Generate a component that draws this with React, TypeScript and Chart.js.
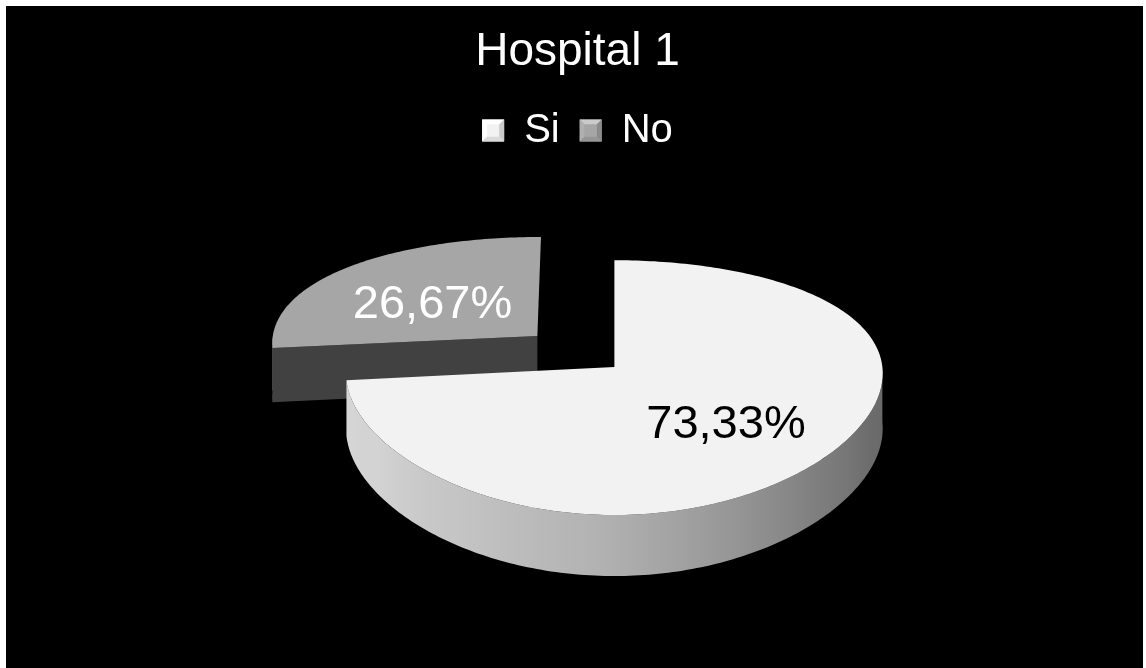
import { useEffect, useRef } from 'react';
import { Chart, registerables } from 'chart.js';

Chart.register(...registerables);

// ---- data ----
const categories = ['Si', 'No'];
const shares = [73.33, 26.67];
const sliceColors = ['#f2f2f2', '#a6a6a6'];
const labelColors = ['#000000', '#ffffff'];
// explode distance of each slice (px, in the pie plane)
const explode = [0, 105];

const FONT = "'Liberation Sans', Arial, sans-serif";

// 3D view of the pie: vertical tilt, wall height and a little perspective
const VIEW = { tilt: 0.463, depth: 0.205, persp: 0.161, perspX: 0.05, perspDepth: 0.1 };
// brightness of the outer wall by its facing angle (deg, 0 = right, 90 = front, 180 = left)
const WALL_SHADE: [number, number][] = [
  [0, 0.42], [22, 0.45], [45, 0.53], [70, 0.64], [92, 0.73], [115, 0.79], [150, 0.87], [180, 0.89],
];
const CUT_SHADE = 0.39;
const LABEL_RADIUS = 0.55;
const LABEL_SIZE = 47;

const fmtShare = (v: number) => v.toFixed(2).replace('.', ',') + '%';

function shade(hex: string, f: number) {
  const n = parseInt(hex.slice(1), 16);
  const c = (x: number) => Math.max(0, Math.min(255, Math.round(x * f)));
  return `rgb(${c((n >> 16) & 255)},${c((n >> 8) & 255)},${c(n & 255)})`;
}

function wallFactor(deg: number) {
  const d = Math.max(0, Math.min(180, deg));
  for (let i = 1; i < WALL_SHADE.length; i++) {
    const [a1, f1] = WALL_SHADE[i];
    const [a0, f0] = WALL_SHADE[i - 1];
    if (d <= a1) return f0 + ((d - a0) / (a1 - a0)) * (f1 - f0);
  }
  return WALL_SHADE[WALL_SHADE.length - 1][1];
}

const pie3d = {
  id: 'pie3d',
  beforeDatasetsDraw(chart: any) {
    const arcs = chart.getDatasetMeta(0).data as any[];
    if (!arcs.length) return false;
    const ctx: CanvasRenderingContext2D = chart.ctx;
    const R: number = arcs[0].outerRadius;
    const cx: number = arcs[0].x;
    const cy: number = arcs[0].y;

    const slices = arcs.map((arc, i) => {
      const mid = (arc.startAngle + arc.endAngle) / 2;
      const off = (arc.options.offset || 0) / R;
      return {
        i,
        a0: arc.startAngle as number,
        a1: arc.endAngle as number,
        mid,
        ox: Math.cos(mid) * off,
        oy: Math.sin(mid) * off,
        color: arc.options.backgroundColor as string,
      };
    });

    const raw = (u: number, v: number, h: number): [number, number] => {
      const k = 1 / (1 - VIEW.persp * v);
      const kx = 1 / (1 - VIEW.perspX * v);
      const kd = 1 / (1 - VIEW.perspDepth * v);
      return [R * u * kx, R * (VIEW.tilt * v * k + VIEW.depth * h * kd)];
    };

    // centre the exploded group on the pie centre
    let minX = Infinity, maxX = -Infinity, minY = Infinity, maxY = -Infinity;
    for (const s of slices) {
      const pts: [number, number][] = [[s.ox, s.oy]];
      const n = Math.max(2, Math.ceil((s.a1 - s.a0) / (Math.PI / 180)));
      for (let j = 0; j <= n; j++) {
        const a = s.a0 + ((s.a1 - s.a0) * j) / n;
        pts.push([s.ox + Math.cos(a), s.oy + Math.sin(a)]);
      }
      for (const [u, v] of pts) {
        for (const h of [0, 1]) {
          const [x, y] = raw(u, v, h);
          minX = Math.min(minX, x); maxX = Math.max(maxX, x);
          minY = Math.min(minY, y); maxY = Math.max(maxY, y);
        }
      }
    }
    const sx = cx - (minX + maxX) / 2;
    const sy = cy - (minY + maxY) / 2;
    const P = (u: number, v: number, h: number): [number, number] => {
      const [x, y] = raw(u, v, h);
      return [x + sx, y + sy];
    };

    const STEP = Math.PI / 180;
    const order = [...slices].sort((a, b) => a.oy - b.oy);
    ctx.save();
    for (const s of order) {
      const rim = (a: number, h: number) => P(s.ox + Math.cos(a), s.oy + Math.sin(a), h);
      const apex = (h: number) => P(s.ox, s.oy, h);

      // flat cut faces that look towards the viewer
      const cuts: [number, number][] = [[s.a0, s.a0 - Math.PI / 2], [s.a1, s.a1 + Math.PI / 2]];
      for (const [a, nrm] of cuts) {
        if (Math.sin(nrm) <= 1e-3) continue;
        ctx.beginPath();
        ctx.moveTo(...apex(0));
        ctx.lineTo(...rim(a, 0));
        ctx.lineTo(...rim(a, 1));
        ctx.lineTo(...apex(1));
        ctx.closePath();
        ctx.fillStyle = shade(s.color, CUT_SHADE);
        ctx.fill();
      }

      // curved outer wall, front half only
      const xL = rim(Math.PI, 0)[0];
      const xR = rim(0, 0)[0];
      const grad = ctx.createLinearGradient(xL, 0, xR, 0);
      for (let d = 180; d >= 0; d -= 5) {
        const x = rim((d * Math.PI) / 180, 0)[0];
        grad.addColorStop(Math.max(0, Math.min(1, (x - xL) / (xR - xL))), shade(s.color, wallFactor(d)));
      }
      for (let k = -1; k <= 2; k++) {
        const b0 = Math.max(s.a0, 2 * Math.PI * k);
        const b1 = Math.min(s.a1, 2 * Math.PI * k + Math.PI);
        if (b1 <= b0) continue;
        const n = Math.max(2, Math.ceil((b1 - b0) / STEP));
        ctx.beginPath();
        for (let j = 0; j <= n; j++) {
          const p = rim(b0 + ((b1 - b0) * j) / n, 0);
          if (j === 0) ctx.moveTo(...p); else ctx.lineTo(...p);
        }
        for (let j = n; j >= 0; j--) ctx.lineTo(...rim(b0 + ((b1 - b0) * j) / n, 1));
        ctx.closePath();
        ctx.fillStyle = grad;
        ctx.fill();
      }

      // top face
      const n = Math.max(2, Math.ceil((s.a1 - s.a0) / STEP));
      ctx.beginPath();
      ctx.moveTo(...apex(0));
      for (let j = 0; j <= n; j++) ctx.lineTo(...rim(s.a0 + ((s.a1 - s.a0) * j) / n, 0));
      ctx.closePath();
      ctx.fillStyle = s.color;
      ctx.fill();
    }

    // value labels on the top faces
    ctx.font = `${LABEL_SIZE}px ${FONT}`;
    ctx.textAlign = 'center';
    ctx.textBaseline = 'middle';
    for (const s of slices) {
      const [x, y] = P(s.ox + LABEL_RADIUS * Math.cos(s.mid), s.oy + LABEL_RADIUS * Math.sin(s.mid), 0);
      ctx.fillStyle = labelColors[s.i];
      ctx.fillText(fmtShare(shares[s.i]), x, y + LABEL_SIZE * 0.2);
    }
    ctx.restore();
    return false;
  },
  afterDraw(chart: any) {
    // bevelled legend markers
    const legend = chart.legend;
    if (!legend || !legend.legendHitBoxes) return;
    const ctx: CanvasRenderingContext2D = chart.ctx;
    const lab = legend.options.labels;
    const size = lab.boxWidth;
    const fontSize = lab.font.size;
    const inset = 5;
    legend.legendHitBoxes.forEach((hb: any, i: number) => {
      const base = sliceColors[i];
      const x = hb.left;
      const y = hb.top + Math.max((fontSize - lab.boxHeight) / 2, 0);
      const x2 = x + size, y2 = y + lab.boxHeight;
      const ix = x + inset, iy = y + inset, ix2 = x2 - inset, iy2 = y2 - inset;
      const quad = (pts: number[][], f: number) => {
        ctx.beginPath();
        ctx.moveTo(pts[0][0], pts[0][1]);
        for (let k = 1; k < pts.length; k++) ctx.lineTo(pts[k][0], pts[k][1]);
        ctx.closePath();
        ctx.fillStyle = shade(base, f);
        ctx.fill();
      };
      ctx.save();
      quad([[x, y], [x2, y], [ix2, iy], [ix, iy]], 1.22);
      quad([[x, y], [ix, iy], [ix, iy2], [x, y2]], 1.06);
      quad([[x2, y], [x2, y2], [ix2, iy2], [ix2, iy]], 0.84);
      quad([[x, y2], [ix, iy2], [ix2, iy2], [x2, y2]], 0.9);
      quad([[ix, iy], [ix2, iy], [ix2, iy2], [ix, iy2]], 1.0);
      ctx.restore();
    });
  },
};

export default function App() {
  const canvasRef = useRef<HTMLCanvasElement | null>(null);

  useEffect(() => {
    if (!canvasRef.current) return;
    const chart = new Chart(canvasRef.current, {
      type: 'pie',
      data: {
        labels: categories,
        datasets: [
          {
            data: shares,
            backgroundColor: sliceColors,
            borderWidth: 0,
            offset: explode,
          },
        ],
      },
      options: {
        animation: false,
        responsive: true,
        maintainAspectRatio: false,
        events: [],
        radius: 268,
        layout: { padding: { left: 6, right: 0, top: 0, bottom: 15.5 } },
        plugins: {
          title: {
            display: true,
            text: 'Hospital 1',
            color: '#ffffff',
            font: { family: FONT, size: 46, weight: 'normal', lineHeight: 1.2 },
            padding: { top: 18.9, bottom: 10.4 },
          },
          legend: {
            display: true,
            position: 'top',
            labels: {
              color: '#ffffff',
              font: { family: FONT, size: 40 },
              boxWidth: 22,
              boxHeight: 22,
              padding: 20,
            },
          },
          tooltip: { enabled: false },
        },
      } as any,
      plugins: [pie3d],
    });
    return () => chart.destroy();
  }, []);

  return (
    <div
      style={{
        position: 'absolute',
        left: 6,
        top: 6,
        width: 1137,
        height: 662,
        background: '#000000',
      }}
    >
      <canvas ref={canvasRef} />
    </div>
  );
}
